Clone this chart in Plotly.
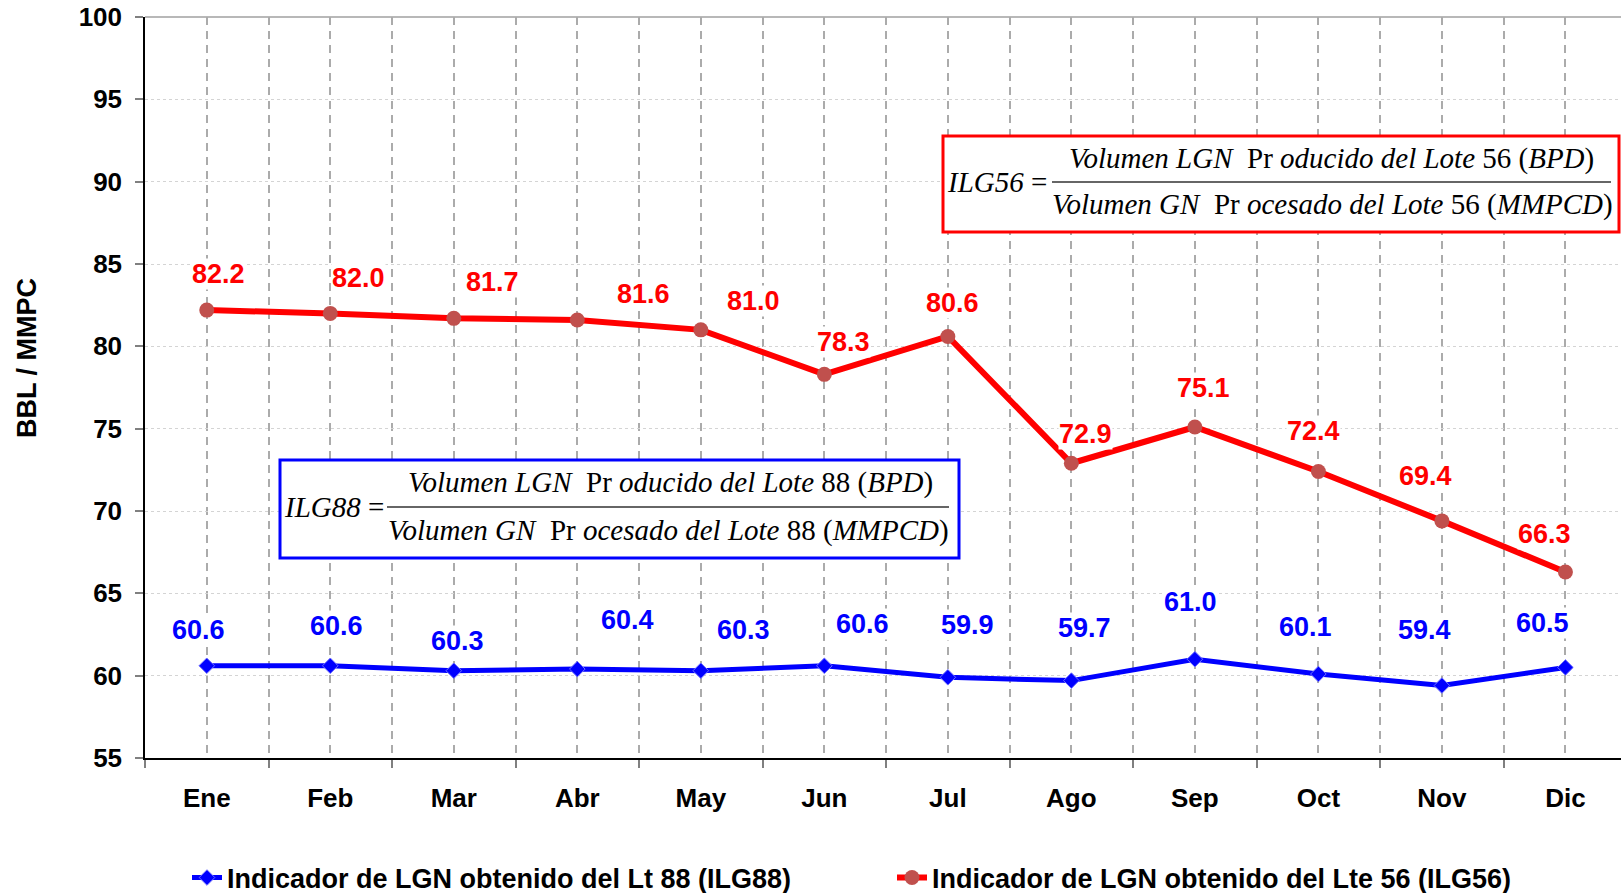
import plotly.graph_objects as go

# ---------------- data ----------------
months = ["Ene", "Feb", "Mar", "Abr", "May", "Jun", "Jul", "Ago", "Sep", "Oct", "Nov", "Dic"]
ilg88 = [60.6, 60.6, 60.3, 60.4, 60.3, 60.6, 59.9, 59.7, 61.0, 60.1, 59.4, 60.5]
ilg56 = [82.2, 82.0, 81.7, 81.6, 81.0, 78.3, 80.6, 72.9, 75.1, 72.4, 69.4, 66.3]
name88 = "Indicador de LGN obtenido del Lt 88 (ILG88)"
name56 = "Indicador de LGN obtenido del Lte 56 (ILG56)"
y_ticks = [55, 60, 65, 70, 75, 80, 85, 90, 95, 100]

# label offsets (pixels) – layout only
off56 = [(12, 36), (28, 35), (39, 36), (66, 26), (53, 29), (19, 32),
         (5, 33), (14, 29), (9, 39), (-5, 40), (-16, 45), (-21, 38)]
off88 = [(-8, 36), (6, 40), (4, 30), (50, 49), (43, 41), (38, 42),
         (20, 52), (13, 53), (-4, 57), (-13, 47), (-17, 56), (-23, 44)]

# ---------------- layout geometry (page pixels) ----------------
W, H = 1621, 893
L, R, T, B = 145, 1621, 17, 758   # plot area


def px(x):
    return (x - L) / (R - L)


def py(y):
    return (B - y) / (B - T)


SANS = "Liberation Sans, Arial, sans-serif"
SERIF = "Liberation Serif, Times New Roman, serif"
xidx = list(range(len(months)))

fig = go.Figure()
fig.add_trace(go.Scatter(
    x=xidx, y=ilg88, name=name88, mode="lines+markers",
    line=dict(color="#0000ff", width=5),
    marker=dict(symbol="diamond", size=12, color="#0000ff",
                line=dict(color="#7070ff", width=1)),
))
fig.add_trace(go.Scatter(
    x=xidx, y=ilg56, name=name56, mode="lines+markers",
    line=dict(color="#ff0000", width=6),
    marker=dict(symbol="circle", size=15, color="#c0504d"),
))

ann = []
for i, v in enumerate(ilg56):
    dx, dy = off56[i]
    ann.append(dict(x=i, y=v, xref="x", yref="y", text=f"{v:.1f}", showarrow=False,
                    xanchor="center", yanchor="middle",
                    xshift=dx, yshift=dy, bgcolor="white", borderpad=0,
                    font=dict(family=SANS, size=27, color="#ff0000", weight="bold")))
for i, v in enumerate(ilg88):
    dx, dy = off88[i]
    ann.append(dict(x=i, y=v, xref="x", yref="y", text=f"{v:.1f}", showarrow=False,
                    xanchor="center", yanchor="middle",
                    xshift=dx, yshift=dy, bgcolor="white", borderpad=0,
                    font=dict(family=SANS, size=27, color="#0000ff", weight="bold")))

# y axis title
ann.append(dict(x=px(27), y=py(358), xref="paper", yref="paper", text="<b>BBL / MMPC</b>",
                textangle=-90, showarrow=False, xanchor="center", yanchor="middle",
                font=dict(family=SANS, size=27, color="black")))

# formula boxes
shapes = []


def formula(tag, lote, box, left_c, bar, num_c, den_c, color):
    x0, y0, x1, y1 = box
    shapes.append(dict(type="rect", xref="paper", yref="paper",
                       x0=px(x0), x1=px(x1), y0=py(y0), y1=py(y1),
                       line=dict(color=color, width=3), fillcolor="white", layer="above"))
    shapes.append(dict(type="line", xref="paper", yref="paper",
                       x0=px(bar[0]), x1=px(bar[1]), y0=py(bar[2]), y1=py(bar[2]),
                       line=dict(color="#333333", width=1.5), layer="above"))
    f = dict(family=SERIF, size=29, color="black")
    ann.append(dict(x=px(left_c[0]), y=py(left_c[1]), xref="paper", yref="paper",
                    xanchor="center", yanchor="middle",
                    text=f"<i>{tag}</i> =", showarrow=False, font=f))
    ann.append(dict(x=px(num_c[0]), y=py(num_c[1]), xref="paper", yref="paper",
                    xanchor="center", yanchor="middle",
                    text=f"<i>Volumen LGN</i>  Pr <i>oducido del Lote</i> {lote} (<i>BPD</i>)",
                    showarrow=False, font=f))
    ann.append(dict(x=px(den_c[0]), y=py(den_c[1]), xref="paper", yref="paper",
                    xanchor="center", yanchor="middle",
                    text=f"<i>Volumen GN</i>  Pr <i>ocesado del Lote</i> {lote} (<i>MMPCD</i>)",
                    showarrow=False, font=f))


formula("ILG56", "56", (943, 136, 1619, 232), (997, 182), (1052, 1611, 182),
        (1331, 158), (1332, 205), "#ff0000")
formula("ILG88", "88", (280, 460, 959, 558), (334, 507), (387, 949, 507),
        (670, 482), (668, 530), "#0000ff")

# top gray border line
shapes.append(dict(type="line", xref="paper", yref="paper", x0=0, x1=1, y0=1, y1=1,
                   line=dict(color="#a0a0a0", width=1.5), layer="below"))

fig.update_layout(
    width=W, height=H, autosize=False,
    margin=dict(l=L, r=W - R, t=T, b=H - B, autoexpand=False),
    paper_bgcolor="white", plot_bgcolor="white",
    font=dict(family=SANS, color="black"),
    showlegend=True,
    legend=dict(orientation="h", x=px(187), xanchor="left", y=py(878), yanchor="middle",
                entrywidth=660, entrywidthmode="pixels",
                font=dict(family=SANS, size=27, color="black", weight="bold"),
                itemsizing="trace", bgcolor="rgba(0,0,0,0)", tracegroupgap=0),
    annotations=ann,
    shapes=shapes,
)

fig.update_xaxes(
    range=[-0.5, 11.45], tickmode="array", tickvals=xidx, ticktext=months,
    showline=True, linecolor="black", linewidth=1.5, automargin=False,
    ticks="", ticklabelstandoff=16, ticklabeloverflow="allow",
    tickfont=dict(family=SANS, size=26, color="black", weight="bold"),
    showgrid=True, gridcolor="#ababab", gridwidth=1.5, griddash="8px,6px",
    minor=dict(tick0=0.5, dtick=1, ticks="outside", ticklen=8, tickcolor="#808080",
               tickwidth=1.5, showgrid=True, gridcolor="#ababab", gridwidth=1.5,
               griddash="8px,6px"),
    zeroline=False, fixedrange=True,
)
fig.update_yaxes(
    range=[55, 100], tickmode="array", tickvals=y_ticks,
    showline=True, linecolor="black", linewidth=1.5, automargin=False,
    ticks="outside", ticklen=8, tickcolor="#808080", tickwidth=1.5,
    ticklabelstandoff=8, ticklabeloverflow="allow",
    tickfont=dict(family=SANS, size=26, color="black", weight="bold"),
    showgrid=True, gridcolor="#d4d4d4", gridwidth=1, griddash="3px,3px",
    zeroline=False, fixedrange=True,
)

fig.write_html(
    "out.html",
    config={"displayModeBar": False},
    post_script="document.body.style.margin='0';document.body.style.overflow='hidden';",
)
